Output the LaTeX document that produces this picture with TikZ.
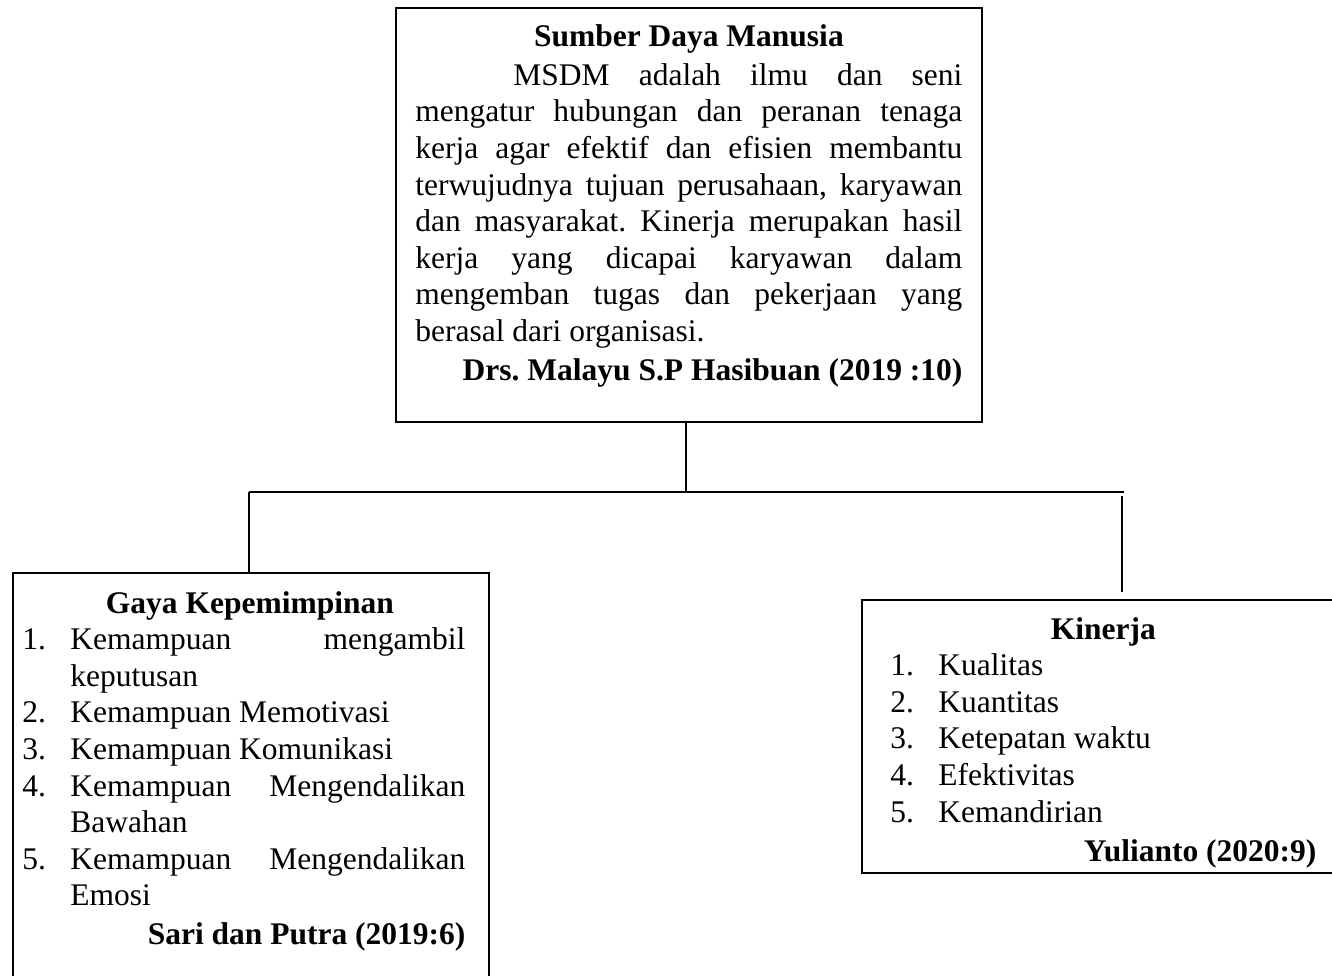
\documentclass[tikz,border=0pt]{standalone}
\usepackage{fontspec}
\setmainfont{Liberation Serif}
\hbadness=10000
\hyphenpenalty=10000
\frenchspacing
\newcommand{\lsitem}[1]{\hangindent=24pt\hangafter=1\noindent\makebox[24pt][l]{#1}}
\newcommand{\justset}{\rightskip=0pt\leftskip=0pt\parfillskip=0pt plus 1fil\relax}
\begin{document}
\begin{tikzpicture}[x=0.5pt,y=-0.5pt,
  boxnode/.style={draw=black, line width=0.9pt, inner sep=0pt, anchor=north west},
  conn/.style={draw=black, line width=0.9pt},
  txt/.style={inner sep=0pt, anchor=base west, align=justify, font=\fontsize{15.75pt}{18.3pt}\selectfont}]
\useasboundingbox (0,0) rectangle (1332,975);
\fill[white] (0,0) rectangle (1332,975);
\clip (0,0) rectangle (1332,975);
% boxes
\node[boxnode, minimum width=293pt, minimum height=207pt] (sdm) at (395,7) {};
\node[boxnode, minimum width=238pt, minimum height=230pt] (gk) at (12,572) {};
\node[boxnode, minimum width=240pt, minimum height=136.5pt] (kin) at (861,599) {};
% texts
\node[txt, text width=273.5pt] (sdmt) at (415,46.7) {\justset
{\centering\bfseries Sumber Daya Manusia\par}\vspace{1pt}
\hspace*{49pt}MSDM adalah ilmu dan seni\linebreak
mengatur hubungan dan peranan tenaga\linebreak
kerja agar efektif dan efisien membantu\linebreak
terwujudnya tujuan perusahaan, karyawan\linebreak
dan masyarakat. Kinerja merupakan hasil\linebreak
kerja yang dicapai karyawan dalam\linebreak
mengemban tugas dan pekerjaan yang\linebreak
berasal dari organisasi.\par\vspace{1.2pt}
{\raggedleft\bfseries Drs. Malayu S.P Hasibuan (2019 :10)\par}};
\node[txt, text width=221.5pt] (gkt) at (22,613) {\justset
{\centering\bfseries\hspace*{6pt}Gaya Kepemimpinan\par}
\lsitem{1.}Kemampuan mengambil\linebreak keputusan\par
\lsitem{2.}Kemampuan Memotivasi\par
\lsitem{3.}Kemampuan Komunikasi\par
\lsitem{4.}Kemampuan Mengendalikan\linebreak Bawahan\par
\lsitem{5.}Kemampuan Mengendalikan\linebreak Emosi\par\vspace{1pt}
{\raggedleft\bfseries Sari dan Putra (2019:6)\par}};
\node[txt, text width=213pt] (kint) at (890,639) {\justset
{\centering\bfseries Kinerja\par}
\lsitem{1.}Kualitas\par
\lsitem{2.}Kuantitas\par
\lsitem{3.}Ketepatan waktu\par
\lsitem{4.}Efektivitas\par
\lsitem{5.}Kemandirian\par\vspace{1.2pt}
{\raggedleft\bfseries Yulianto (2020:9)\par}};
% connectors
\coordinate (jn) at (686,492);
\coordinate (hl) at (249,492);
\coordinate (hr) at (1124,492);
\coordinate (rt) at (1122,496);
\coordinate (rb) at (1122,592);
\draw[conn] (sdm.south -| jn) -- (jn);
\draw[conn] (hl) -- (hr);
\draw[conn] (hl) -- (hl |- gk.north);
\draw[conn] (rt) -- (rb);
\end{tikzpicture}
\end{document}
